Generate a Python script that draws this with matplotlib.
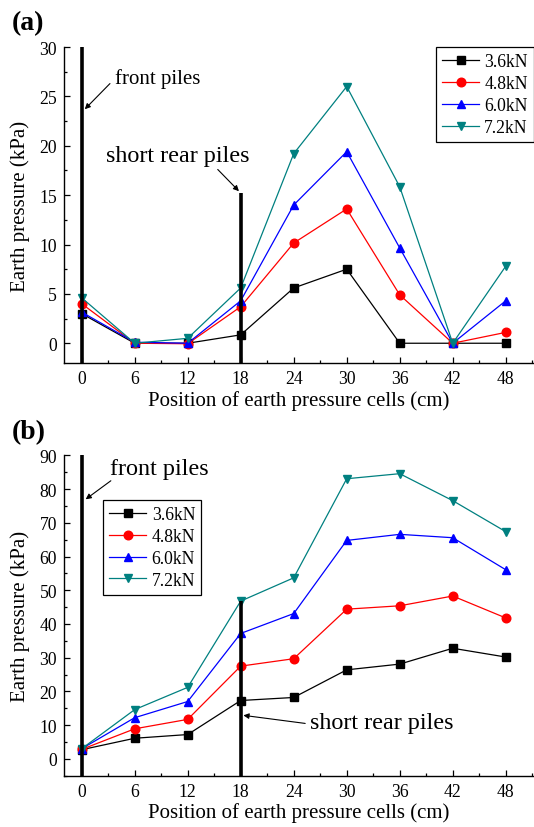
import matplotlib
matplotlib.use("Agg")
import matplotlib.pyplot as plt
from matplotlib.ticker import MultipleLocator

plt.rcParams["font.family"] = ["Liberation Serif", "DejaVu Serif"]
plt.rcParams["mathtext.fontset"] = "stix"

# positions of the earth pressure cells (cm)
positions = [0, 6, 12, 18, 24, 30, 36, 42, 48]
loads = ["3.6kN", "4.8kN", "6.0kN", "7.2kN"]
colors = ["black", "#ff0000", "#0000ff", "#008080"]
markers = ["s", "o", "^", "v"]

# (a) earth pressure, kPa
a_36 = [3.0, 0.0, 0.0, 0.85, 5.6, 7.5, 0.0, 0.0, 0.0]
a_48 = [4.0, 0.0, -0.05, 3.7, 10.15, 13.6, 4.9, 0.0, 1.1]
a_60 = [3.15, 0.1, 0.0, 4.3, 14.0, 19.4, 9.65, 0.0, 4.3]
a_72 = [4.6, 0.0, 0.5, 5.6, 19.2, 26.0, 15.85, 0.0, 7.8]

# (b) earth pressure, kPa
b_36 = [2.7, 6.1, 7.2, 17.3, 18.2, 26.4, 28.1, 32.8, 30.2]
b_48 = [2.8, 8.9, 11.7, 27.5, 29.7, 44.4, 45.4, 48.3, 41.8]
b_60 = [3.0, 12.2, 17.0, 37.2, 43.1, 64.8, 66.6, 65.6, 56.1]
b_72 = [3.0, 14.6, 21.2, 46.8, 53.7, 83.1, 84.6, 76.6, 67.4]

# pile heights drawn as thick vertical bars (front pile, short rear pile)
a_front_top, a_rear_top = 30.0, 15.2
b_front_top, b_rear_top = 90.0, 46.8


def style_axes(ax, ylim, ymajor, yminor):
    ax.set_xlim(-2, 51.2)
    ax.set_ylim(*ylim)
    ax.spines["top"].set_visible(False)
    ax.spines["right"].set_visible(False)
    for s in ("left", "bottom"):
        ax.spines[s].set_linewidth(1.0)
    ax.set_xticks(positions)
    ax.xaxis.set_minor_locator(MultipleLocator(3))
    ax.yaxis.set_major_locator(MultipleLocator(ymajor))
    ax.yaxis.set_minor_locator(MultipleLocator(yminor))
    ax.tick_params(which="both", direction="in", labelsize=12.7, width=0.9, pad=5)
    ax.tick_params(which="major", length=4)
    ax.tick_params(which="minor", length=2.5)
    ax.set_xlabel("Position of earth pressure cells (cm)", fontsize=15, labelpad=2)
    ax.set_ylabel("Earth pressure (kPa)", fontsize=15, labelpad=7)


def draw_series(ax, series):
    for vals, lab, c, m in zip(series, loads, colors, markers):
        ax.plot(positions, vals, color=c, marker=m, markersize=6.2, lw=0.9,
                label=lab, zorder=2)


def draw_piles(ax, ybot, front_top, rear_top):
    ax.plot([0, 0], [ybot, front_top], color="black", lw=2.6, zorder=3,
            solid_capstyle="butt")
    ax.plot([18, 18], [ybot, rear_top], color="black", lw=2.6, zorder=3,
            solid_capstyle="butt")


arrow = dict(arrowstyle="-|>", color="black", lw=0.8, mutation_scale=8,
             shrinkA=0, shrinkB=0)

fig = plt.figure(figsize=(5.34, 8.28), dpi=100)

# ---- panel (a)
ax1 = fig.add_axes([0.1199, 0.5604, 0.8801, 0.3816])
style_axes(ax1, (-2, 30), 5, 2.5)
draw_series(ax1, [a_36, a_48, a_60, a_72])
draw_piles(ax1, -2, a_front_top, a_rear_top)
ax1.annotate("", xy=(0.35, 23.7), xytext=(3.2, 26.3), arrowprops=arrow)
ax1.text(3.8, 26.9, "front piles", fontsize=15, va="center", ha="left")
ax1.annotate("", xy=(17.8, 15.4), xytext=(15.4, 17.6), arrowprops=arrow)
ax1.text(2.8, 19.0, "short rear piles", fontsize=17.4, va="center", ha="left")
ax1.legend(loc="upper right", bbox_to_anchor=(1.0, 1.0), fontsize=12.7,
           frameon=True, fancybox=False, edgecolor="black", framealpha=1,
           handlelength=2.1, handletextpad=0.3, borderpad=0.35,
           labelspacing=0.28, borderaxespad=0.0).get_frame().set_linewidth(0.9)
fig.text(0.022, 0.972, "(a)", fontsize=20, fontweight="bold", va="center")

# ---- panel (b)
ax2 = fig.add_axes([0.1199, 0.0620, 0.8801, 0.3867])
style_axes(ax2, (-5, 90), 10, 5)
draw_series(ax2, [b_36, b_48, b_60, b_72])
draw_piles(ax2, -5, b_front_top, b_rear_top)
ax2.annotate("", xy=(0.45, 77.0), xytext=(3.3, 82.5), arrowprops=arrow)
ax2.text(3.2, 86.2, "front piles", fontsize=17.4, va="center", ha="left")
ax2.annotate("", xy=(18.3, 12.9), xytext=(25.3, 10.5), arrowprops=arrow)
ax2.text(25.8, 10.9, "short rear piles", fontsize=17.4, va="center", ha="left")
ax2.legend(loc="upper left", bbox_to_anchor=(0.0834, 0.862), fontsize=12.7,
           frameon=True, fancybox=False, edgecolor="black", framealpha=1,
           handlelength=2.1, handletextpad=0.3, borderpad=0.35,
           labelspacing=0.28, borderaxespad=0.0).get_frame().set_linewidth(0.9)
fig.text(0.022, 0.478, "(b)", fontsize=20, fontweight="bold", va="center")

fig.savefig("out.png", dpi=100)
